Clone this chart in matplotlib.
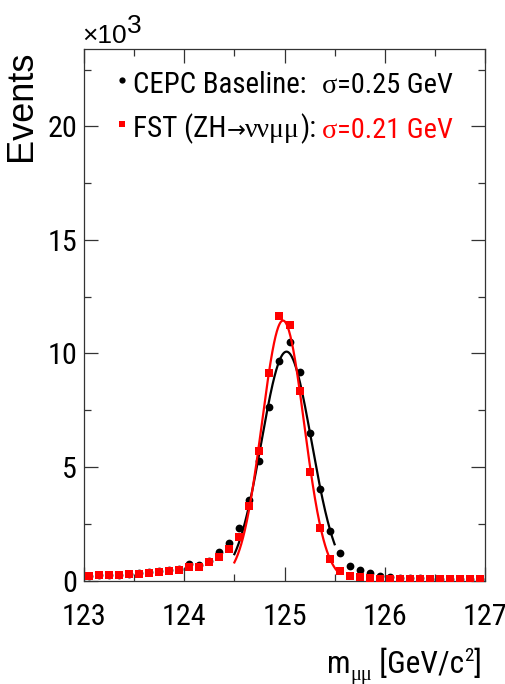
import numpy as np
import matplotlib
matplotlib.use("Agg")
import matplotlib.pyplot as plt
from matplotlib.lines import Line2D
from matplotlib.ticker import MultipleLocator

# ---- data: events per 0.1 GeV bin, in units of 10^3 ----
bin_centers = np.round(np.arange(123.05, 127.0, 0.1), 2)

baseline_counts = [0.22, 0.25, 0.25, 0.26, 0.30, 0.31, 0.37, 0.42, 0.46, 0.50,
                   0.71, 0.68, 0.88, 1.24, 1.65, 2.30, 3.55, 5.28, 7.66, 9.67,
                   10.52, 9.17, 6.51, 4.02, 2.17, 1.22, 0.65, 0.45, 0.31, 0.20,
                   0.15, 0.12, 0.10, 0.09, 0.08, 0.08, 0.07, 0.07, 0.06, 0.06]

fst_counts = [0.20, 0.23, 0.23, 0.24, 0.27, 0.29, 0.34, 0.39, 0.43, 0.46,
              0.61, 0.61, 0.80, 1.02, 1.37, 1.90, 3.28, 5.72, 9.16, 11.67,
              11.26, 8.36, 4.77, 2.30, 0.95, 0.42, 0.22, 0.14, 0.10, 0.07,
              0.05, 0.05, 0.05, 0.05, 0.05, 0.05, 0.05, 0.05, 0.05, 0.05]

# Gaussian fit results (mean [GeV], sigma [GeV], peak [10^3 events], fit range)
baseline_fit = dict(mean=125.02, sigma=0.25, peak=10.08, lo=124.50, hi=125.50)
fst_fit = dict(mean=124.985, sigma=0.21, peak=11.45, lo=124.50, hi=125.53)

x_ticks = [123, 124, 125, 126, 127]
y_ticks = [0, 5, 10, 15, 20]

SANS_N = ["Roboto Condensed", "Liberation Sans", "DejaVu Sans"]
SANS = ["Liberation Sans", "DejaVu Sans"]
SERIF = ["Liberation Serif", "DejaVu Serif"]
ARROW = ["DejaVu Sans"]
RED = "#ff0000"

W, H = 506, 684
fig = plt.figure(figsize=(W / 100, H / 100), dpi=100)
renderer = fig.canvas.get_renderer()


def fx(x):
    return x / W


def fy(y):
    return 1 - y / H


def text_width(s, family, size):
    t = fig.text(0, 0, s, family=family, fontsize=size)
    w = t.get_window_extent(renderer).width
    t.remove()
    return w


def run(x, y, parts, width=None):
    """Draw text pieces on one baseline, left to right.

    parts: [(text, family, size, color, raise_px)]; if width is given the
    sizes are scaled together so the whole run spans that many pixels.
    """
    scale = 1.0
    if width is not None:
        total = sum(text_width(p[0], p[1], p[2]) for p in parts)
        scale = min(max(width / total, 0.8), 1.2)
    cx = x
    for txt, fam, size, color, dy in parts:
        t = fig.text(fx(cx), fy(y - dy), txt, family=fam, fontsize=size * scale,
                     color=color, ha="left", va="baseline")
        cx += t.get_window_extent(renderer).width


ax = fig.add_axes([fx(84), fy(580.5), (485 - 84) / W, (580.5 - 49) / H])


def gauss(x, p):
    return p["peak"] * np.exp(-0.5 * ((x - p["mean"]) / p["sigma"]) ** 2)


ax.plot(bin_centers, baseline_counts, "o", color="black", ms=5.6, mew=0, zorder=3)
xb = np.linspace(baseline_fit["lo"], baseline_fit["hi"], 300)
ax.plot(xb, gauss(xb, baseline_fit), color="black", lw=1.6, zorder=4)

ax.plot(bin_centers, fst_counts, "s", color=RED, ms=5.4, mew=0, zorder=5)
xr = np.linspace(fst_fit["lo"], fst_fit["hi"], 300)
ax.plot(xr, gauss(xr, fst_fit), color=RED, lw=1.6, zorder=6)

ax.set_xlim(123, 127)
ax.set_ylim(0, 23.41)

# tick labels sized so "123" spans about 45 px
tick_size = 22 * 45 / text_width("123", SANS_N, 22)
tick_size = min(max(tick_size, 18), 26)

ax.set_xticks(x_ticks)
ax.set_yticks(y_ticks)
ax.xaxis.set_minor_locator(MultipleLocator(0.5))
ax.yaxis.set_minor_locator(MultipleLocator(2.5))
ax.tick_params(which="both", direction="in", top=True, right=True,
               colors="#333333", width=0.9)
ax.tick_params(which="major", length=10)
ax.tick_params(which="minor", length=5)
ax.tick_params(axis="x", which="major", pad=16, labelsize=tick_size, labelcolor="black")
ax.tick_params(axis="y", which="major", pad=5, labelsize=tick_size, labelcolor="black")
for lab in ax.get_xticklabels() + ax.get_yticklabels():
    lab.set_fontfamily(SANS_N)
for s in ax.spines.values():
    s.set_color("#333333")
    s.set_linewidth(0.9)

# y-axis title and scale factor
fig.text(fx(22), fy(106), "Events", rotation=90, ha="center", va="center",
         fontsize=26, family=SANS)
run(82, 43, [("\u00d710", SANS, 19, "black", 0),
             ("3", SANS, 19, "black", 10)])

# legend
fig.add_artist(Line2D([fx(122)], [fy(80)], marker="o", color="black", ms=4.5,
                      mew=0, transform=fig.transFigure))
fig.add_artist(Line2D([fx(122)], [fy(124)], marker="s", color=RED, ms=4.5,
                      mew=0, transform=fig.transFigure))

run(133, 93, [("CEPC Baseline:", SANS_N, 22, "black", 0)], width=173)
run(322, 93, [("\u03c3", SERIF, 22, "black", 0),
              ("=0.25 GeV", SANS_N, 22, "black", 0)], width=131)
run(133, 137, [("FST (ZH", SANS_N, 22, "black", 0),
               ("\u2192", ARROW, 17, "black", 0),
               ("\u03bd\u03bd\u03bc\u03bc", SERIF, 21, "black", 0),
               ("):", SANS_N, 22, "black", 0)], width=183)
run(322, 138, [("\u03c3", SERIF, 22, RED, 0),
               ("=0.21 GeV", SANS_N, 22, RED, 0)], width=131)

# x-axis title
run(327, 673, [("m", SANS_N, 23, "black", 0),
               ("\u03bc\u03bc", SERIF, 15, "black", -7),
               (" [GeV/c", SANS_N, 23, "black", 0),
               ("2", SANS_N, 14, "black", 12),
               ("]", SANS_N, 23, "black", 0)], width=155)

fig.savefig("out.png", dpi=100)
